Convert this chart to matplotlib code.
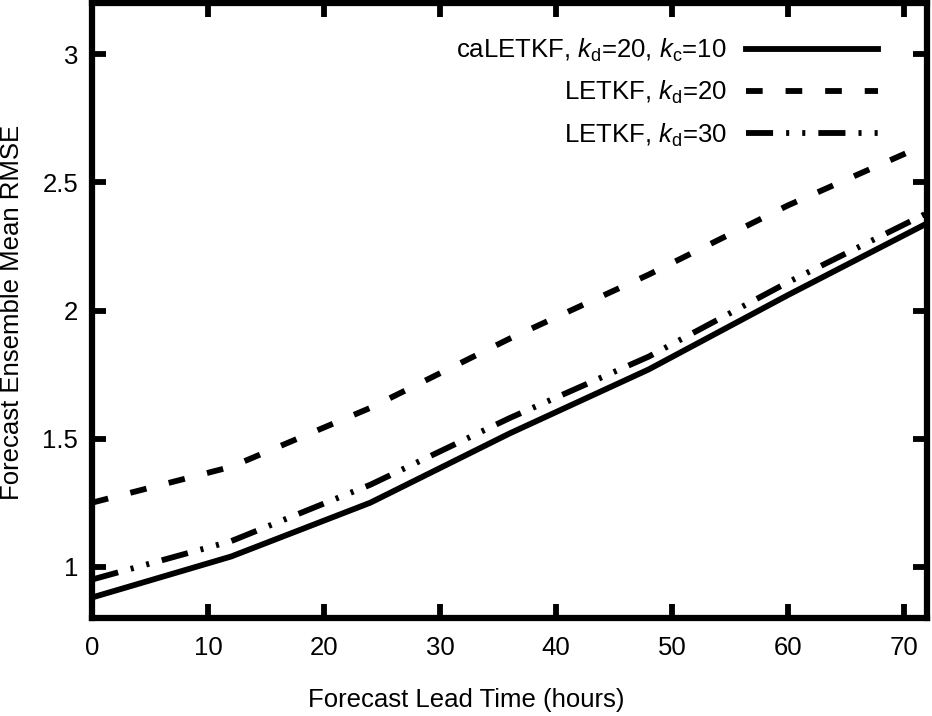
import numpy as np
import matplotlib
matplotlib.use("Agg")
import matplotlib.pyplot as plt
from matplotlib.ticker import FormatStrFormatter

plt.rcParams["font.family"] = ["Liberation Sans", "DejaVu Sans"]
plt.rcParams["mathtext.fontset"] = "custom"
plt.rcParams["mathtext.rm"] = "Liberation Sans"
plt.rcParams["mathtext.it"] = "Liberation Sans:italic"
plt.rcParams["lines.scale_dashes"] = False

# forecast lead time (hours) and ensemble mean RMSE
lead_time = [0, 12, 24, 36, 48, 60, 72]
rmse_caletkf = [0.88, 1.04, 1.25, 1.52, 1.77, 2.06, 2.34]
rmse_letkf20 = [1.25, 1.39, 1.62, 1.89, 2.14, 2.41, 2.65]
rmse_letkf30 = [0.95, 1.10, 1.32, 1.58, 1.82, 2.11, 2.38]

labels = [
    r"caLETKF, $k_\mathrm{d}$=20, $k_\mathrm{c}$=10",
    r"LETKF, $k_\mathrm{d}$=20",
    r"LETKF, $k_\mathrm{d}$=30",
]

fs = 18.5

fig = plt.figure(figsize=(9.32, 7.16), dpi=100)
ax = fig.add_axes([92 / 932, 98 / 716, 835 / 932, 615 / 716])

lw = 4.2
ax.plot(lead_time, rmse_caletkf, color="black", lw=lw, label=labels[0])
ax.plot(lead_time, rmse_letkf20, color="black", lw=lw, label=labels[1],
        dashes=(12, 16.5), dash_capstyle="butt")
ax.plot(lead_time, rmse_letkf30, color="black", lw=lw, label=labels[2],
        dashes=(19.5, 9.4, 2.2, 9.4, 2.2, 9.4), dash_capstyle="butt")

ax.set_xlim(0, 72)
ax.set_ylim(0.8, 3.2)
ax.set_xticks(np.arange(0, 71, 10))
ax.set_yticks([1, 1.5, 2, 2.5, 3])
ax.yaxis.set_major_formatter(FormatStrFormatter("%g"))

for s in ax.spines.values():
    s.set_linewidth(4.5)
ax.tick_params(direction="in", length=10, width=4.2, labelsize=fs,
               top=True, right=True)
ax.tick_params(axis="x", pad=13)
ax.tick_params(axis="y", pad=10)

fig.text(0.5, 9 / 716, "Forecast Lead Time (hours)", ha="center",
         va="baseline", fontsize=fs)
fig.text(12 / 932, 404 / 716, "Forecast Ensemble Mean RMSE", ha="center",
         va="center", rotation=90, fontsize=fs)

ax.legend(loc="upper right", bbox_to_anchor=(883 / 932, 1 - 32 / 716),
          bbox_transform=fig.transFigure, frameon=False, fontsize=fs,
          markerfirst=False, handlelength=5.15, handletextpad=0.72,
          labelspacing=0.58, borderpad=0.2, borderaxespad=0)

fig.savefig("out.png", dpi=100)
